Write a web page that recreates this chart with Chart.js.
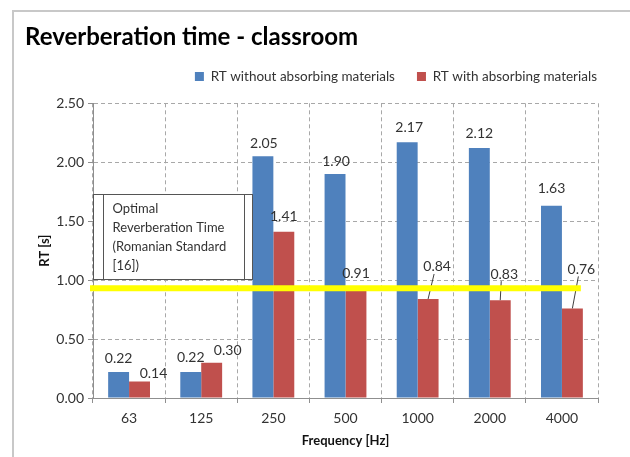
<!DOCTYPE html>
<html>
<head>
<meta charset="utf-8">
<script src="https://cdn.jsdelivr.net/npm/chart.js@4.4.0/dist/chart.umd.min.js"></script>
<style>
	html, body { margin: 0; padding: 0; background: #fff; }
	#wrap { width: 630px; height: 457px; }
</style>
</head>
<body>
<div id="wrap"><canvas id="rt-chart"></canvas></div>
<script>
// Chart data.
const FREQUENCIES = ['63', '125', '250', '500', '1000', '2000', '4000'];
const RT_WITHOUT = [0.22, 0.22, 2.05, 1.90, 2.17, 2.12, 1.63];
const RT_WITH = [0.14, 0.30, 1.41, 0.91, 0.84, 0.83, 0.76];
const OPTIMAL_RT = 0.93;
const Y_TICKS = [0, 0.5, 1, 1.5, 2, 2.5];
const NOTE_LINES = ['Optimal', 'Reverberation Time', '(Romanian Standard', '[16])'];

(function() {
	'use strict';

	Chart.defaults.font.family = 'Lato';

	const blue = '#4f81bd';
	const red = '#c0504d';
	const gridColor = '#a8a8a8';
	const axisColor = '#8f8f8f';
	const textColor = '#333333';

	// Label nudges [dx, distance above bar top], Excel moved a few of them.
	const labelNudge = [
		[[0, 14], [0, 15], [1, 13], [1, 13], [2, 15], [0, 15], [0, 17]],
		[[14, 8], [16, 12], [0, 15], [0, 17], [9, 32], [4, 26], [9, 39]]
	];

	// White background and the grey frame of the chart object.
	const frame = {
		id: 'frame',
		beforeDraw(chart) {
			const ctx = chart.ctx;
			ctx.save();
			ctx.fillStyle = '#ffffff';
			ctx.fillRect(0, 0, chart.width, chart.height);
			ctx.strokeStyle = '#c8c8c8';
			ctx.lineWidth = 2;
			ctx.beginPath();
			ctx.moveTo(13, chart.height);
			ctx.lineTo(13, 11);
			ctx.lineTo(chart.width, 11);
			ctx.stroke();
			ctx.restore();
		}
	};

	// Extra room under the legend, legend nudged up and to the plot's right edge.
	const legendSpacing = {
		id: 'legendSpacing',
		beforeLayout(chart) {
			const legend = chart.legend;
			if (legend && !legend._patched) {
				const fit = legend.fit;
				legend.fit = function() {
					fit.call(this);
					this.height += 5;
				};
				legend._patched = true;
			}
		},
		afterLayout(chart) {
			const legend = chart.legend;
			const shift = chart.options.plugins.legend.labels.padding - 1;
			legend.left += shift;
			legend.right += shift;
			legend.top -= 5;
			legend.bottom -= 5;
		}
	};

	// Value labels, with leader lines when a label was pulled away.
	const valueLabels = {
		id: 'valueLabels',
		afterDatasetsDraw(chart) {
			const ctx = chart.ctx;
			ctx.save();
			ctx.font = '14px Lato';
			ctx.fillStyle = textColor;
			ctx.textAlign = 'center';
			ctx.textBaseline = 'middle';
			chart.data.datasets.forEach(function(ds, di) {
				chart.getDatasetMeta(di).data.forEach(function(bar, i) {
					const nudge = labelNudge[di][i];
					const lx = bar.x + nudge[0];
					const ly = bar.y - nudge[1];
					if (nudge[1] > 20) {
						ctx.strokeStyle = '#404040';
						ctx.lineWidth = 1;
						ctx.beginPath();
						ctx.moveTo(lx - 3, ly + 7);
						ctx.lineTo(bar.x, bar.y);
						ctx.stroke();
					}
					ctx.fillText(ds.data[i].toFixed(2), lx, ly);
				});
			});
			ctx.restore();
		}
	};

	// Yellow optimal RT line and its note box.
	const optimalMarks = {
		id: 'optimalMarks',
		afterDatasetsDraw(chart) {
			const ctx = chart.ctx;
			const area = chart.chartArea;
			const y = chart.scales.y;
			const lastRed = chart.getDatasetMeta(1).data[RT_WITH.length - 1];
			const yLine = y.getPixelForValue(OPTIMAL_RT);

			ctx.save();
			ctx.strokeStyle = '#ffff00';
			ctx.lineWidth = 6;
			ctx.beginPath();
			ctx.moveTo(area.left - 3, yLine);
			ctx.lineTo(lastRed.x + lastRed.width / 2 - 2, yLine);
			ctx.stroke();

			const top = Math.round(y.getPixelForValue(1.73)) + 0.5;
			const bottom = Math.round(y.getPixelForValue(1.0)) - 0.5;
			const left = Math.round(area.left) + 0.5;
			const right = left + 159;
			ctx.fillStyle = '#ffffff';
			ctx.fillRect(left, top, right - left, bottom - top);
			ctx.strokeStyle = '#555555';
			ctx.lineWidth = 1;
			ctx.strokeRect(left, top, right - left, bottom - top);
			ctx.beginPath();
			ctx.moveTo(left + 10, top);
			ctx.lineTo(left + 10, bottom);
			ctx.moveTo(right - 8, top);
			ctx.lineTo(right - 8, bottom);
			ctx.stroke();

			ctx.font = '13px Lato';
			ctx.fillStyle = textColor;
			ctx.textAlign = 'left';
			ctx.textBaseline = 'middle';
			NOTE_LINES.forEach(function(line, i) {
				ctx.fillText(line, left + 19, top + 14 + i * 19);
			});
			ctx.restore();
		}
	};

	const ctx = document.getElementById('rt-chart').getContext('2d');

	new Chart(ctx, {
		type: 'bar',
		data: {
			labels: FREQUENCIES,
			datasets: [
				{
					label: 'RT without absorbing materials',
					data: RT_WITHOUT,
					backgroundColor: blue,
					borderWidth: 0
				},
				{
					label: 'RT with absorbing materials',
					data: RT_WITH,
					backgroundColor: red,
					borderWidth: 0
				}
			]
		},
		options: {
			responsive: true,
			maintainAspectRatio: false,
			animation: false,
			categoryPercentage: 0.58,
			barPercentage: 1.0,
			layout: {
				padding: { top: 14, left: 25, right: 32, bottom: 0 }
			},
			plugins: {
				title: {
					display: true,
					text: 'Reverberation time - classroom',
					align: 'start',
					color: '#000000',
					font: { size: 24, weight: 'bold' },
					padding: { top: 9, bottom: 1 }
				},
				legend: {
					position: 'top',
					align: 'end',
					labels: {
						boxWidth: 9,
						boxHeight: 9,
						color: textColor,
						font: { size: 13.5 },
						padding: 22
					}
				},
				tooltip: { enabled: false }
			},
			scales: {
				x: {
					grid: {
						offset: true,
						color: gridColor,
						tickLength: 5,
						tickColor: axisColor,
						tickBorderDash: []
					},
					border: { color: axisColor, dash: [4, 3] },
					ticks: {
						color: textColor,
						font: { size: 14 },
						padding: 7
					},
					title: {
						display: true,
						text: 'Frequency [Hz]',
						color: '#111111',
						font: { size: 13, weight: 'bold' },
						padding: { top: 4, bottom: 8 }
					},
					afterFit: function(scale) {
						scale.height = 59;
					}
				},
				y: {
					min: 0,
					max: 2.5,
					grid: {
						color: gridColor,
						tickLength: 5,
						tickColor: axisColor,
						tickBorderDash: []
					},
					border: { color: axisColor, dash: [4, 3] },
					afterBuildTicks: function(scale) {
						scale.ticks = Y_TICKS.map(function(v) { return { value: v }; });
					},
					ticks: {
						color: textColor,
						font: { size: 14 },
						padding: 4,
						callback: function(value) {
							return Number(value).toFixed(2);
						}
					},
					title: {
						display: true,
						text: 'RT [s]',
						color: '#111111',
						font: { size: 13, weight: 'bold' },
						padding: { top: 12, bottom: 4 }
					},
					afterFit: function(scale) {
						scale.width = 68;
					}
				}
			}
		},
		plugins: [frame, legendSpacing, valueLabels, optimalMarks]
	});
})();
</script>
</body>
</html>
